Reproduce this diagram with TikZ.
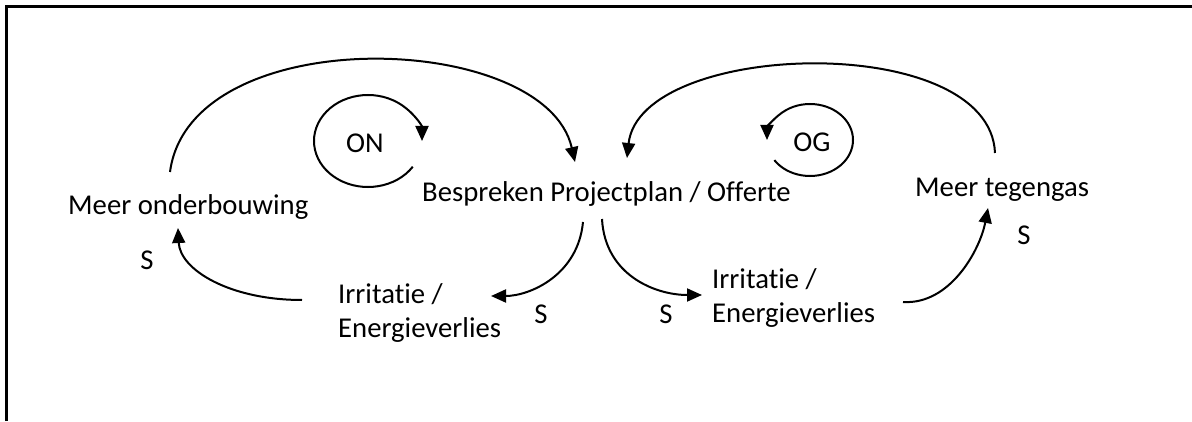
\documentclass[tikz,border=0pt]{standalone}
\usepackage{fontspec}
\setmainfont{Carlito}[Ligatures={NoCommon}]
\usepackage{tikz}
\usetikzlibrary{arrows.meta, positioning, calc}
\tikzset{
  lbl/.style={inner sep=0pt, font=\fontsize{28.7}{34}\selectfont},
  arr/.style={-{Triangle[length=15pt, width=13pt]}, line width=2pt},
  frame/.style={line width=3pt},
}
\begin{document}
\begin{tikzpicture}[x=1pt, y=1pt]
\useasboundingbox (0,0) rectangle (1192,421);

% frame (top and left edge only)
\draw[frame] (6,0) |- (1192,414);

\node[lbl, anchor=base west] (mo) at (68,206) {Meer onderbouwing};
\node[lbl, anchor=base west] (bp) at (422,219) {Bespreken Projectplan / Offerte};
\node[lbl, anchor=base west] (mt) at (915,224) {Meer tegengas};
\node[lbl, anchor=base west, align=left] (irl) at (338,84) {Irritatie /\\Energieverlies};
\node[lbl, anchor=base west, align=left] (irr) at (712,99) {Irritatie /\\Energieverlies};

\node[lbl] (on) at (365,278) {ON};
\node[lbl] (og) at (812,279) {OG};

\node[lbl, anchor=base] (smo) at (147,151) {S};
\node[lbl, anchor=base] (sirl) at (541,98) {S};
\node[lbl, anchor=base] (sirr) at (666,98) {S};
\node[lbl, anchor=base] (smt) at (1024,176) {S};

% big arcs over the top
\draw[arr] ([shift={(102,43)}]mo.base west) .. controls +(20,152) and +(-30,132)
  .. ([shift={(153,40)}]bp.base west);
\draw[arr] ([shift={(80,44)}]mt.base west) .. controls +(-5,123) and +(13,118)
  .. ([shift={(205,44)}]bp.base west);

% down to irritation
\draw[arr] ([shift={(161,-20)}]bp.base west) .. controls +(-5,-53) and +(39,0)
  .. ([shift={(153,41)}]irl.base west);
\draw[arr] ([shift={(180,-17)}]bp.base west) .. controls +(3,-56) and +(-47,0)
  .. ([shift={(-10,27)}]irr.base west);

% back up
\draw[arr] ([shift={(-36,37)}]irl.base west) .. controls +(-72,0) and +(2,-42)
  .. ([shift={(110,-13)}]mo.base west);
\draw[arr] ([shift={(191,20)}]irr.base west) .. controls +(47,-3) and +(-8,-42)
  .. ([shift={(73,-11)}]mt.base west);

% loops
\draw[arr] ([shift={(3,2)}]on.center) ++(-34:54 and 46)
  arc[start angle=-34, end angle=-360, x radius=54, y radius=46];
\draw[arr] ([shift={(-2,2)}]og.center) ++(-146:43 and 36)
  arc[start angle=-146, end angle=180, x radius=43, y radius=36];

\end{tikzpicture}
\end{document}
